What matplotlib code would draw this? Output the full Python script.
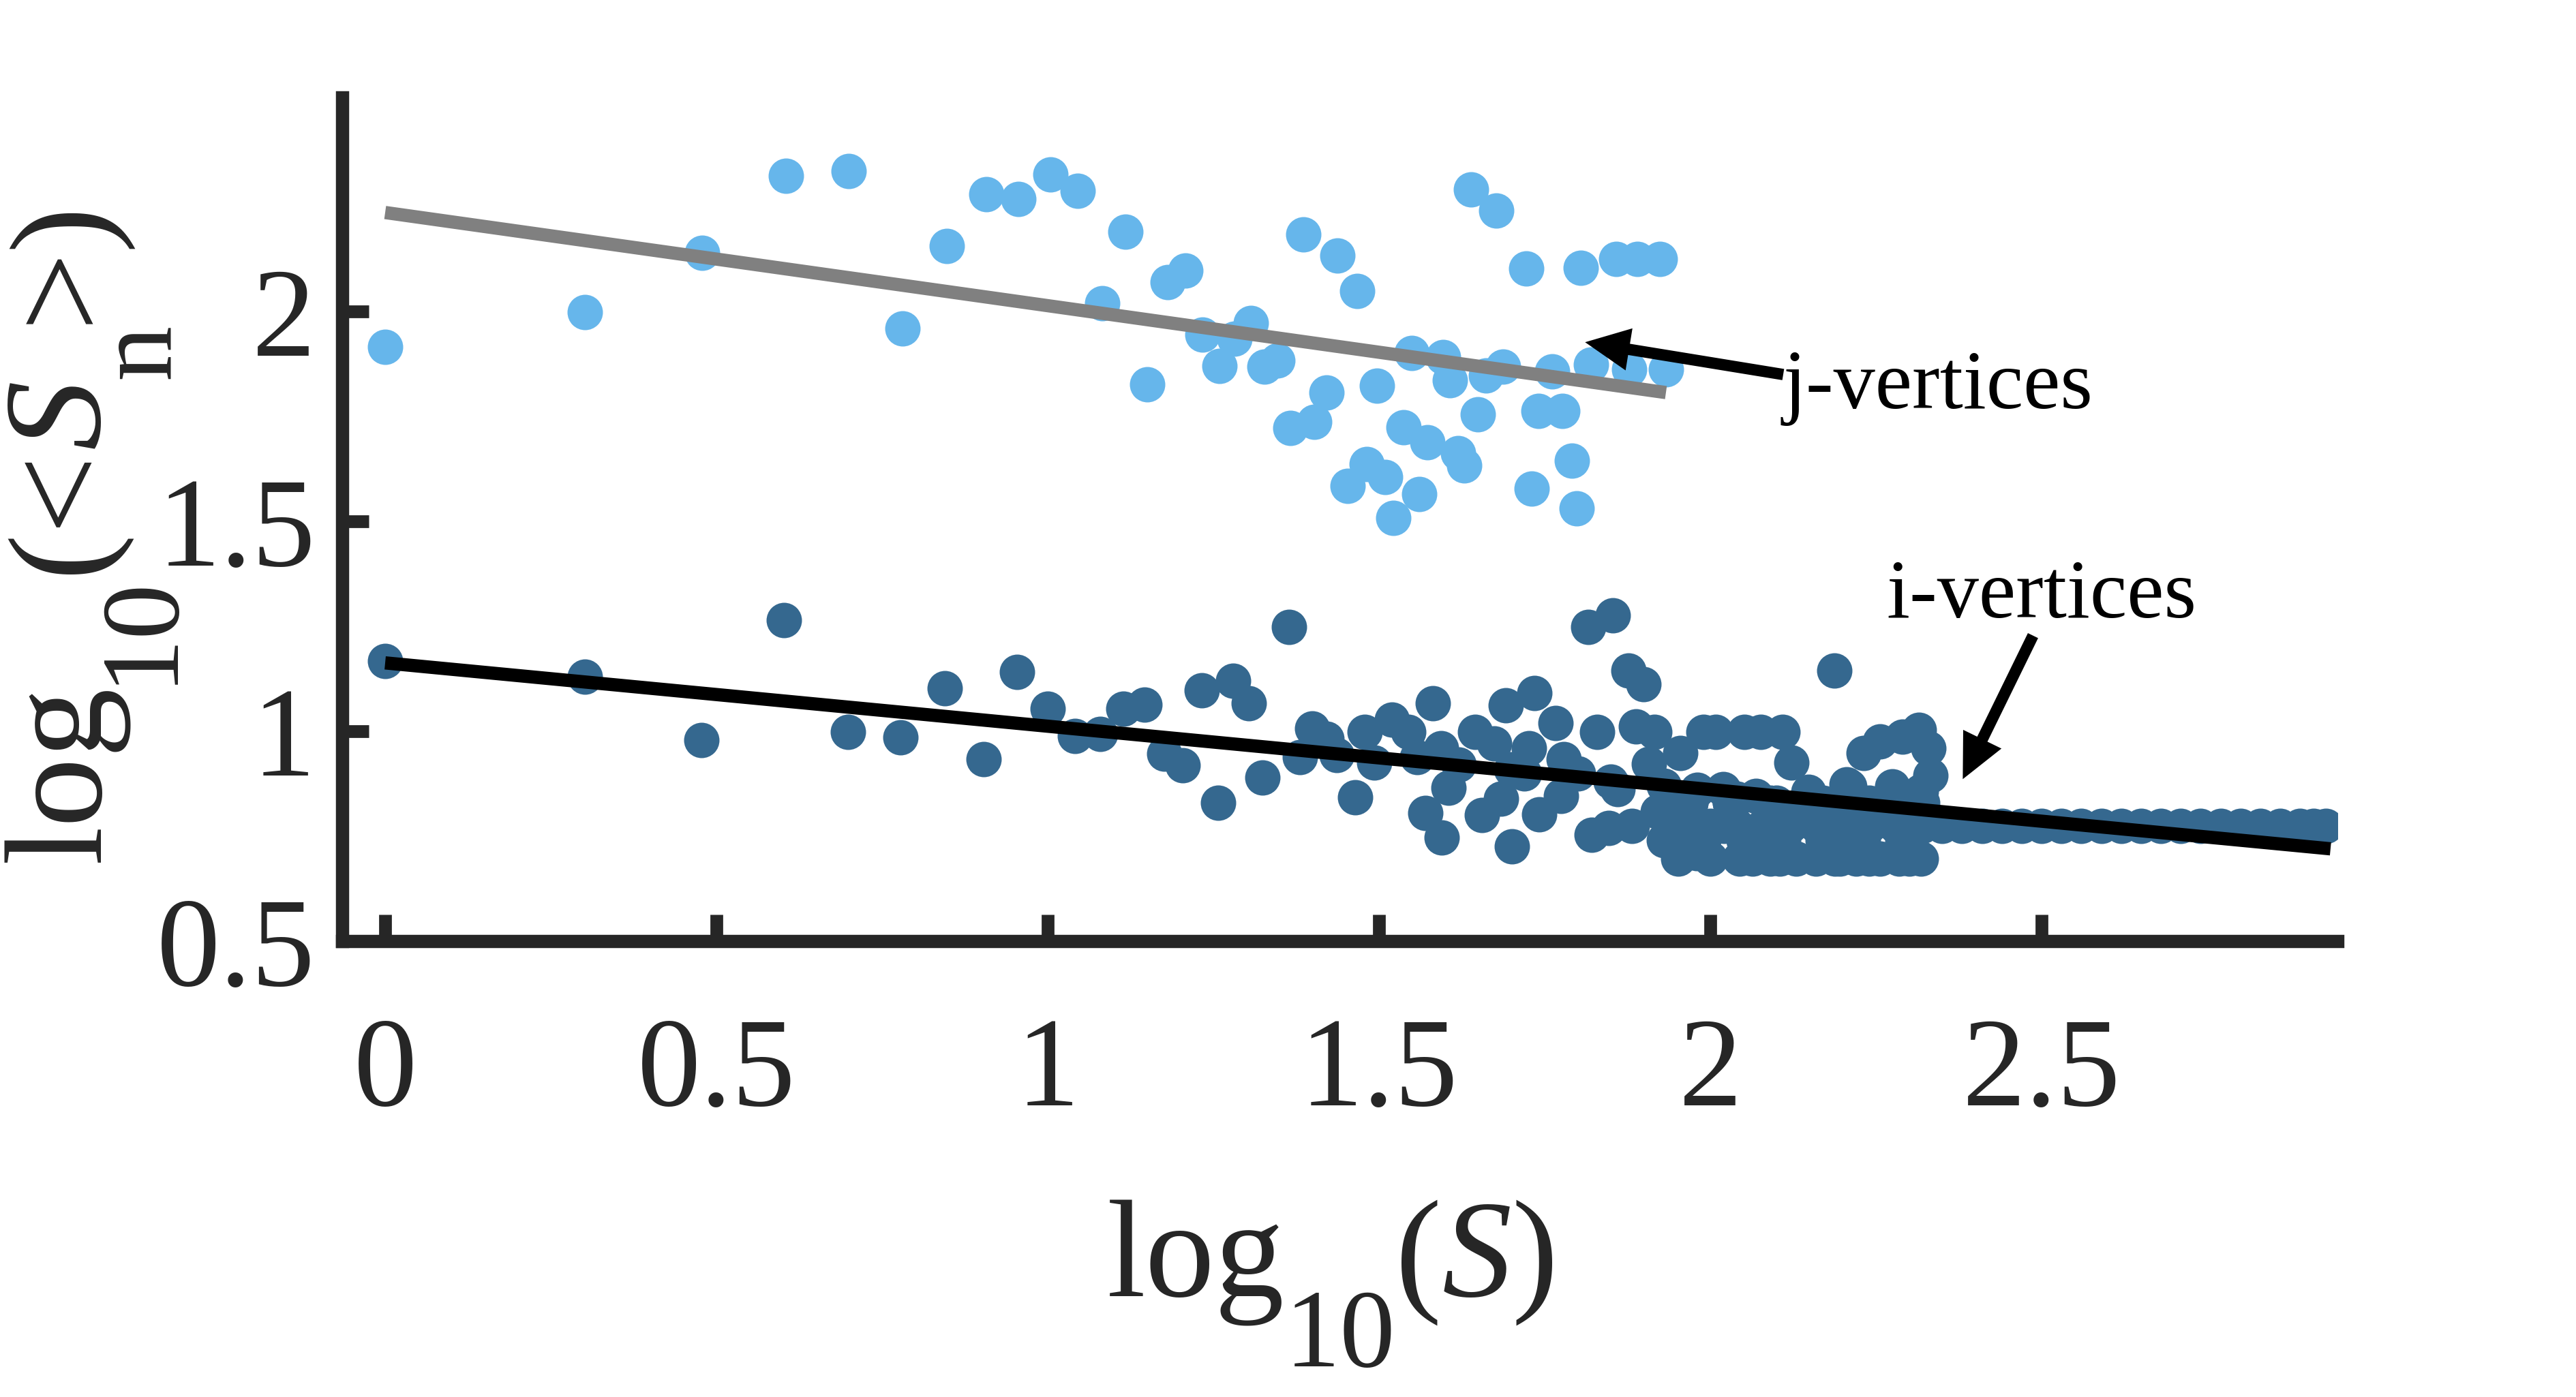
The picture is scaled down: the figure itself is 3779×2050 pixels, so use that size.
import matplotlib
matplotlib.use("Agg")
import matplotlib.pyplot as plt

# j-vertices (light blue)
j_x = [0.000, 0.301, 0.478, 0.605, 0.700, 0.781, 0.848, 0.907, 0.956, 1.004,
       1.045, 1.082, 1.117, 1.150, 1.181, 1.208, 1.234, 1.259, 1.282, 1.307,
       1.327, 1.347, 1.366, 1.386, 1.402, 1.421, 1.437, 1.453, 1.467, 1.481,
       1.497, 1.509, 1.522, 1.537, 1.549, 1.561, 1.573, 1.597, 1.607, 1.619,
       1.629, 1.639, 1.649, 1.661, 1.677, 1.687, 1.722, 1.730, 1.741, 1.761,
       1.777, 1.791, 1.798, 1.804, 1.820, 1.858, 1.878, 1.890, 1.924, 1.933]
j_y = [1.916, 1.999, 2.140, 2.324, 2.335, 1.959, 2.156, 2.280, 2.268, 2.327,
       2.287, 2.020, 2.191, 1.826, 2.070, 2.097, 1.945, 1.871, 1.935, 1.972,
       1.869, 1.884, 1.722, 2.184, 1.738, 1.807, 2.133, 1.585, 2.049, 1.637,
       1.824, 1.606, 1.509, 1.725, 1.902, 1.566, 1.689, 1.892, 1.836, 1.662,
       1.633, 2.291, 1.755, 1.847, 2.240, 1.869, 2.102, 1.578, 1.764, 1.858,
       1.764, 1.644, 1.531, 2.104, 1.873, 2.126, 1.862, 2.126, 2.126, 1.862]

# i-vertices (dark blue)
i_x = [0.000, 0.301, 0.477, 0.602, 0.699, 0.778, 0.845, 0.903, 0.954, 1.000,
       1.041, 1.079, 1.114, 1.146, 1.176, 1.204, 1.232, 1.257, 1.280, 1.303,
       1.324, 1.364, 1.381, 1.399, 1.421, 1.436, 1.464, 1.478, 1.493, 1.520,
       1.544, 1.558, 1.570, 1.581, 1.594, 1.595, 1.605, 1.620, 1.645, 1.655,
       1.674, 1.684, 1.691, 1.700, 1.701, 1.719, 1.726, 1.734, 1.742, 1.766,
       1.775, 1.779, 1.800, 1.816, 1.821, 1.829, 1.847, 1.850, 1.853, 1.860,
       1.877, 1.882, 1.888, 1.899, 1.907, 1.916, 1.921, 1.930, 1.952, 1.955,
       1.957, 1.970, 1.979, 1.980, 1.990, 2.008, 2.019, 2.021, 2.030, 2.040,
       2.044, 2.051, 2.064, 2.069, 2.076, 2.090, 2.100, 2.109, 2.122, 2.130,
       2.148, 2.150, 2.159, 2.170, 2.187, 2.188, 2.206, 2.210, 2.210, 2.220,
       2.231, 2.240, 2.256, 2.256, 2.270, 2.275, 2.285, 2.290, 2.300, 2.315,
       2.318, 2.318, 2.329, 2.332,
       2.000, 2.090, 2.105, 2.195, 2.240, 2.300,
       1.930, 1.990, 2.050, 2.110, 2.170, 2.230, 2.290,
       1.970, 2.030, 2.150, 2.270, 2.320,
       1.960, 2.000, 2.040, 2.080, 2.120, 2.160, 2.200, 2.240, 2.280, 2.320,
       2.350, 2.380, 2.410, 2.440, 2.470, 2.500, 2.530, 2.560, 2.590, 2.620,
       2.650, 2.680, 2.710, 2.740, 2.770, 2.800, 2.830, 2.860, 2.890, 2.910,
       2.929]
i_y = [1.168, 1.130, 0.979, 1.265, 0.999, 0.986, 1.102, 0.933, 1.141, 1.053,
       0.989, 0.993, 1.053, 1.064, 0.947, 0.919, 1.098, 0.829, 1.120, 1.066,
       0.890, 1.248, 0.938, 1.006, 0.982, 0.944, 0.843, 0.999, 0.925, 1.028,
       0.998, 0.938, 0.805, 1.067, 0.960, 0.747, 0.865, 0.920, 0.998, 0.800,
       0.971, 0.840, 1.062, 0.910, 0.726, 0.900, 0.960, 1.091, 0.802, 1.020,
       0.846, 0.933, 0.900, 1.248, 0.754, 0.999, 0.770, 0.880, 1.276, 0.862,
       1.144, 0.775, 1.011, 1.113, 0.922, 0.999, 0.808, 0.870, 0.697, 0.949,
       0.824, 0.830, 0.710, 0.860, 0.999, 0.999, 0.862, 0.775, 0.830, 0.840,
       0.697, 0.999, 0.697, 0.846, 0.999, 0.830, 0.830, 0.999, 0.926, 0.697,
       0.856, 0.820, 0.697, 0.830, 1.144, 0.697, 0.873, 0.868, 0.810, 0.697,
       0.949, 0.830, 0.976, 0.697, 0.830, 0.868, 0.697, 0.987, 0.800, 1.003,
       0.697, 0.857, 0.960, 0.895,
       0.697, 0.697, 0.697, 0.697, 0.697, 0.697,
       0.740, 0.740, 0.740, 0.740, 0.740, 0.740, 0.740,
       0.830, 0.830, 0.830, 0.830, 0.830,
       0.775, 0.775, 0.775, 0.775, 0.775, 0.775, 0.775, 0.775, 0.775, 0.775,
       0.775, 0.775, 0.775, 0.775, 0.775, 0.775, 0.775, 0.775, 0.775, 0.775,
       0.775, 0.775, 0.775, 0.775, 0.775, 0.775, 0.775, 0.775, 0.775, 0.775,
       0.775]

# fitted lines (end points)
j_fit_x = [0.0, 1.933]
j_fit_y = [2.236, 1.807]
i_fit_x = [0.0, 2.936]
i_fit_y = [1.163, 0.720]

x_ticks = [0, 0.5, 1, 1.5, 2, 2.5]
x_tick_labels = ["0", "0.5", "1", "1.5", "2", "2.5"]
y_ticks = [0.5, 1, 1.5, 2]
y_tick_labels = ["0.5", "1", "1.5", "2"]

# axis labels as (text, fontsize, baseline drop in px, style)
x_label_parts = [("log", 147, 0, "normal"), ("10", 117, 103, "normal"),
                 ("(", 147, 0, "normal"), ("S", 147, 0, "italic"),
                 (")", 147, 0, "normal")]
y_label_parts = [("log", 147, 0, "normal"), ("10", 117, 103, "normal"),
                 ("(<", 147, 0, "normal"), ("S", 147, 0, "italic"),
                 ("n", 117, 103, "normal"), (">)", 147, 0, "normal")]

plt.rcParams["font.family"] = ["Liberation Serif", "DejaVu Serif"]

axis_color = "#262626"
W, H = 3779, 2050

fig = plt.figure(figsize=(W / 100, H / 100), dpi=100)
ax = fig.add_axes([0.1328, 0.3263, 0.7746, 0.6039])

ax.scatter(j_x, j_y, s=1400, color="#66B6EB", linewidths=0, zorder=2)
ax.scatter(i_x, i_y, s=1400, color="#35688F", linewidths=0, zorder=2)
ax.plot(j_fit_x, j_fit_y, color="#808080", lw=14, solid_capstyle="butt", zorder=3)
ax.plot(i_fit_x, i_fit_y, color="black", lw=14, solid_capstyle="butt", zorder=3)

ax.set_xlim(-0.065, 2.9465)
ax.set_ylim(0.5, 2.51)
ax.set_xticks(x_ticks)
ax.set_xticklabels(x_tick_labels)
ax.set_yticks(y_ticks)
ax.set_yticklabels(y_tick_labels)

for side in ["top", "right"]:
    ax.spines[side].set_visible(False)
for side in ["left", "bottom"]:
    ax.spines[side].set_linewidth(14)
    ax.spines[side].set_color(axis_color)

ax.tick_params(direction="in", length=28, width=13.5, color=axis_color,
               labelcolor=axis_color, labelsize=134)
ax.tick_params(axis="x", pad=80)
ax.tick_params(axis="y", pad=28)


def draw_label(parts, x0, y0, vertical, gap=0):
    # lay the pieces one after another so the subscripts sit low like the original
    renderer = fig.canvas.get_renderer()
    pos = 0
    for text, size, drop, style in parts:
        if vertical:
            x, y = x0 + drop, y0 + pos
        else:
            x, y = x0 + pos, y0 - drop
        t = fig.text(x / W, y / H, text, fontsize=size, fontstyle=style,
                     color=axis_color, rotation=90 if vertical else 0,
                     rotation_mode="anchor", ha="left", va="baseline")
        bb = t.get_window_extent(renderer)
        pos += (bb.height if vertical else bb.width) + gap


# positions in pixels from the lower left corner
draw_label(x_label_parts, 1624, H - 1902, vertical=False)
draw_label(y_label_parts, 145, H - 1265, vertical=True)

# annotations
arrow_style = "simple,head_length=47,head_width=45,tail_width=12"
ax.annotate("", xy=(1.811, 1.927), xytext=(2.110, 1.850),
            arrowprops=dict(arrowstyle=arrow_style, mutation_scale=1,
                            color="black", lw=0, shrinkA=0, shrinkB=0),
            zorder=5)
ax.text(2.109, 1.769, "j-vertices", fontsize=88, color="black",
        ha="left", va="baseline", zorder=5)
ax.annotate("", xy=(2.381, 0.886), xytext=(2.487, 1.228),
            arrowprops=dict(arrowstyle=arrow_style, mutation_scale=1,
                            color="black", lw=0, shrinkA=0, shrinkB=0),
            zorder=5)
ax.text(2.266, 1.272, "i-vertices", fontsize=88, color="black",
        ha="left", va="baseline", zorder=5)

fig.savefig("out.png", dpi=100)
